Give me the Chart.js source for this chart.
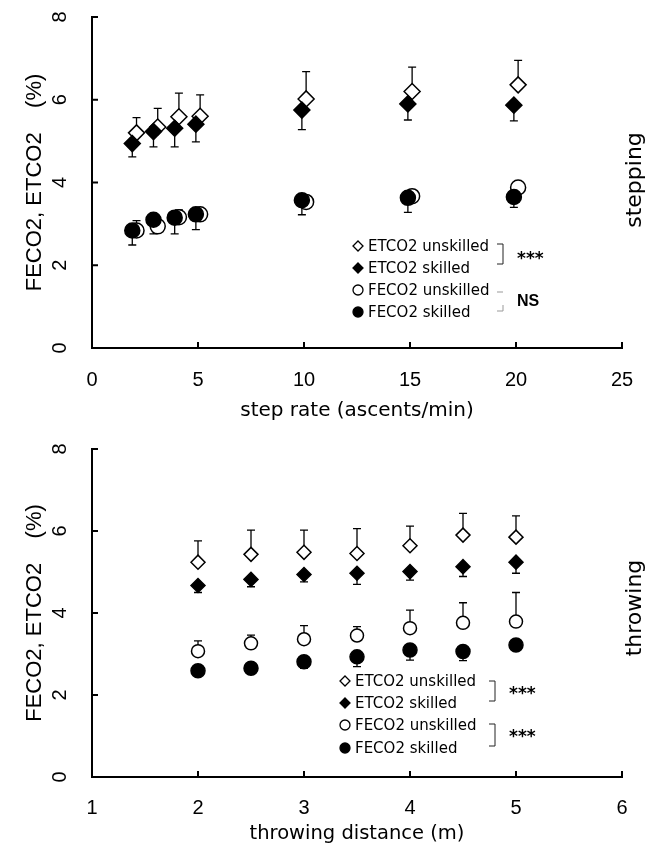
<!DOCTYPE html>
<html>
<head>
<meta charset="utf-8">
<script src="https://cdn.jsdelivr.net/npm/chart.js@4.4.1/dist/chart.umd.min.js"></script>
<style>
  html, body { margin: 0; padding: 0; background: #fff; }
  #wrap { position: relative; width: 658px; height: 855px; }
  canvas { position: absolute; left: 0; }
</style>
</head>
<body>
<div id="wrap">
  <canvas id="stepping-chart" width="658" height="430" style="top:0"></canvas>
  <canvas id="throwing-chart" width="658" height="425" style="top:430px"></canvas>
</div>
<script>
// stepping data (step rate, ascents/min)
const stepRates = [2, 3, 4, 5, 10, 15, 20];
const stepEtUnskilled = [5.2, 5.34, 5.59, 5.6, 6.02, 6.2, 6.36];
const stepEtUnskilledSd = [0.37, 0.45, 0.57, 0.52, 0.66, 0.59, 0.59];
const stepEtSkilled = [4.94, 5.23, 5.31, 5.41, 5.75, 5.9, 5.87];
const stepEtSkilledSd = [0.32, 0.37, 0.45, 0.43, 0.47, 0.39, 0.38];
const stepFeUnskilled = [2.84, 2.94, 3.16, 3.23, 3.53, 3.67, 3.88];
const stepFeUnskilledSd = [0.24, 0.12, 0.18, 0.12, 0.1, 0.1, 0.1];
const stepFeSkilled = [2.84, 3.1, 3.15, 3.23, 3.57, 3.63, 3.65];
const stepFeSkilledSd = [0.35, 0.34, 0.39, 0.37, 0.35, 0.35, 0.25];

// throwing data (distance, m)
const throwDistances = [2, 2.5, 3, 3.5, 4, 4.5, 5];
const throwEtUnskilled = [5.24, 5.43, 5.48, 5.45, 5.64, 5.9, 5.85];
const throwEtUnskilledSd = [0.52, 0.59, 0.54, 0.61, 0.48, 0.53, 0.52];
const throwEtSkilled = [4.67, 4.82, 4.94, 4.97, 5.01, 5.13, 5.24];
const throwEtSkilledSd = [0.17, 0.18, 0.18, 0.27, 0.21, 0.24, 0.27];
const throwFeUnskilled = [3.07, 3.26, 3.36, 3.45, 3.63, 3.76, 3.79];
const throwFeUnskilledSd = [0.25, 0.2, 0.33, 0.22, 0.44, 0.49, 0.71];
const throwFeSkilled = [2.59, 2.65, 2.81, 2.93, 3.1, 3.06, 3.22];
const throwFeSkilledSd = [0.1, 0.12, 0.16, 0.24, 0.25, 0.22, 0.1];

const seriesLabels = ["ETCO2 unskilled", "ETCO2 skilled", "FECO2 unskilled", "FECO2 skilled"];
const yTicks = [0, 2, 4, 6, 8];

const BLACK = "#000";

function points(xs, ys, shift) {
  return xs.map((x, i) => ({ x: x + shift, y: ys[i] }));
}

function makeDataset(label, xs, ys, sd, dir, shape, filled, radius, shift) {
  return {
    label: label,
    data: points(xs, ys, shift),
    sd: sd,
    errDir: dir,
    pointStyle: shape,
    pointRadius: radius,
    pointBorderWidth: 1.5,
    pointBorderColor: BLACK,
    pointBackgroundColor: filled ? BLACK : "#fff",
    showLine: false,
    order: filled ? 0 : 1,
  };
}

// error bars, inward ticks, rotated y labels, legend and side label
const decorations = {
  id: "decorations",
  beforeDatasetsDraw(chart) {
    const ctx = chart.ctx;
    const y = chart.scales.y;
    ctx.save();
    ctx.strokeStyle = BLACK;
    ctx.lineWidth = 1.3;
    chart.data.datasets.forEach((ds, di) => {
      const meta = chart.getDatasetMeta(di);
      meta.data.forEach((pt, i) => {
        const v = ds.data[i].y + ds.errDir * ds.sd[i];
        const py = y.getPixelForValue(v);
        ctx.beginPath();
        ctx.moveTo(pt.x, pt.y);
        ctx.lineTo(pt.x, py);
        ctx.moveTo(pt.x - 4, py);
        ctx.lineTo(pt.x + 4, py);
        ctx.stroke();
      });
    });
    ctx.restore();
  },
  afterDraw(chart, args, opts) {
    const ctx = chart.ctx;
    const { x, y } = chart.scales;
    const area = chart.chartArea;
    ctx.save();
    // inward ticks
    ctx.strokeStyle = BLACK;
    ctx.lineWidth = 2;
    x.ticks.forEach((t) => {
      const px = x.getPixelForValue(t.value);
      ctx.beginPath();
      ctx.moveTo(px, area.bottom);
      ctx.lineTo(px, area.bottom - 6);
      ctx.stroke();
    });
    y.ticks.forEach((t) => {
      const py = y.getPixelForValue(t.value);
      ctx.beginPath();
      ctx.moveTo(area.left, py);
      ctx.lineTo(area.left + 6, py);
      ctx.stroke();
    });
    // rotated y tick labels
    ctx.fillStyle = BLACK;
    ctx.font = "20px 'Liberation Sans'";
    ctx.textAlign = "center";
    ctx.textBaseline = "middle";
    yTicks.forEach((v) => {
      const py = y.getPixelForValue(v);
      ctx.save();
      ctx.translate(opts.yLabelX, py);
      ctx.rotate(-Math.PI / 2);
      ctx.fillText(String(v), 0, 0);
      ctx.restore();
    });
    // side label
    ctx.save();
    ctx.font = "22px 'DejaVu Sans'";
    ctx.translate(opts.side.x, opts.side.y);
    ctx.rotate(-Math.PI / 2);
    ctx.fillText(opts.side.text, 0, 0);
    ctx.restore();
    // legend
    const lg = opts.legend;
    ctx.font = "15px 'DejaVu Sans'";
    ctx.textAlign = "left";
    chart.data.datasets.forEach((ds, i) => {
      const ly = lg.rows[i];
      const mx = lg.markerX;
      ctx.beginPath();
      if (ds.pointStyle === "rectRot") {
        ctx.moveTo(mx, ly - 5);
        ctx.lineTo(mx + 5, ly);
        ctx.lineTo(mx, ly + 5);
        ctx.lineTo(mx - 5, ly);
        ctx.closePath();
      } else {
        ctx.arc(mx, ly, 5, 0, Math.PI * 2);
      }
      ctx.fillStyle = ds.pointBackgroundColor;
      ctx.fill();
      ctx.lineWidth = 1.3;
      ctx.stroke();
      ctx.fillStyle = BLACK;
      ctx.fillText(ds.label, lg.textX, ly + 1);
    });
    // significance brackets
    lg.brackets.forEach((b) => {
      ctx.strokeStyle = b.faint ? "#999" : "#222";
      ctx.lineWidth = 1;
      ctx.beginPath();
      ctx.moveTo(b.x - 6, b.top);
      ctx.lineTo(b.x, b.top);
      if (b.faint) ctx.moveTo(b.x, b.bottom - 6);
      ctx.lineTo(b.x, b.bottom);
      ctx.lineTo(b.x - 6, b.bottom);
      ctx.stroke();
      ctx.fillStyle = BLACK;
      if (b.text === "NS") {
        ctx.font = "bold 16px 'Liberation Sans Narrow', 'Liberation Sans'";
        ctx.fillText(b.text, b.x + 14, b.labelY);
      } else {
        ctx.font = "bold 17px 'DejaVu Sans'";
        ctx.fillText(b.text, b.x + 14, b.labelY + 5);
      }
    });
    ctx.restore();
  },
};

function axisOptions(xMin, xMax, xStep, xTitle, xTitleSize, xHeight, tickPad) {
  return {
    x: {
      type: "linear",
      min: xMin,
      max: xMax,
      ticks: { stepSize: xStep, color: BLACK, padding: tickPad, font: { family: "'Liberation Sans'", size: 20 } },
      grid: { display: false, drawTicks: false },
      border: { display: true, color: BLACK, width: 2 },
      title: { display: true, text: xTitle, color: BLACK, padding: 0, font: { family: "'DejaVu Sans'", size: xTitleSize } },
      afterFit: (scale) => { scale.height = xHeight; },
    },
    y: {
      type: "linear",
      min: 0,
      max: 8,
      ticks: { stepSize: 2, display: false },
      grid: { display: false, drawTicks: false },
      border: { display: true, color: BLACK, width: 2 },
      title: { display: true, text: "FECO2, ETCO2    (%)", color: BLACK, padding: 0, font: { family: "'Liberation Sans'", size: 22 } },
      afterFit: (scale) => { scale.width = 70; },
    },
  };
}

// stepping chart
new Chart(document.getElementById("stepping-chart"), {
  type: "scatter",
  data: {
    datasets: [
      makeDataset(seriesLabels[0], stepRates, stepEtUnskilled, stepEtUnskilledSd, 1, "rectRot", false, 8, 0.1),
      makeDataset(seriesLabels[1], stepRates, stepEtSkilled, stepEtSkilledSd, -1, "rectRot", true, 8, -0.1),
      makeDataset(seriesLabels[2], stepRates, stepFeUnskilled, stepFeUnskilledSd, 1, "circle", false, 7.5, 0.1),
      makeDataset(seriesLabels[3], stepRates, stepFeSkilled, stepFeSkilledSd, -1, "circle", true, 7.5, -0.1),
    ],
  },
  options: {
    responsive: false,
    animation: false,
    layout: { padding: { left: 22, top: 17, right: 36, bottom: 7 } },
    scales: axisOptions(0, 25, 5, "step rate (ascents/min)", 20, 75, 20),
    plugins: {
      legend: { display: false },
      tooltip: { enabled: false },
      decorations: {
        yLabelX: 60,
        side: { text: "stepping", x: 635, y: 180 },
        legend: {
          markerX: 358,
          textX: 368,
          rows: [246, 268, 290, 312],
          brackets: [
            { x: 503, top: 244, bottom: 264, text: "***", labelY: 255 },
            { x: 503, top: 292, bottom: 311, text: "NS", labelY: 302, faint: true },
          ],
        },
      },
    },
  },
  plugins: [decorations],
});

// throwing chart
new Chart(document.getElementById("throwing-chart"), {
  type: "scatter",
  data: {
    datasets: [
      makeDataset(seriesLabels[0], throwDistances, throwEtUnskilled, throwEtUnskilledSd, 1, "rectRot", false, 7, 0),
      makeDataset(seriesLabels[1], throwDistances, throwEtSkilled, throwEtSkilledSd, -1, "rectRot", true, 7, 0),
      makeDataset(seriesLabels[2], throwDistances, throwFeUnskilled, throwFeUnskilledSd, 1, "circle", false, 6.5, 0),
      makeDataset(seriesLabels[3], throwDistances, throwFeSkilled, throwFeSkilledSd, -1, "circle", true, 7, 0),
    ],
  },
  options: {
    responsive: false,
    animation: false,
    layout: { padding: { left: 22, top: 19, right: 36, bottom: 9 } },
    scales: axisOptions(1, 6, 1, "throwing distance (m)", 19.5, 69, 19),
    plugins: {
      legend: { display: false },
      tooltip: { enabled: false },
      decorations: {
        yLabelX: 60,
        side: { text: "throwing", x: 635, y: 178 },
        legend: {
          markerX: 345,
          textX: 355,
          rows: [251, 273, 295, 318],
          brackets: [
            { x: 495, top: 251, bottom: 271, text: "***", labelY: 260 },
            { x: 495, top: 294, bottom: 316, text: "***", labelY: 303 },
          ],
        },
      },
    },
  },
  plugins: [decorations],
});
</script>
</body>
</html>
